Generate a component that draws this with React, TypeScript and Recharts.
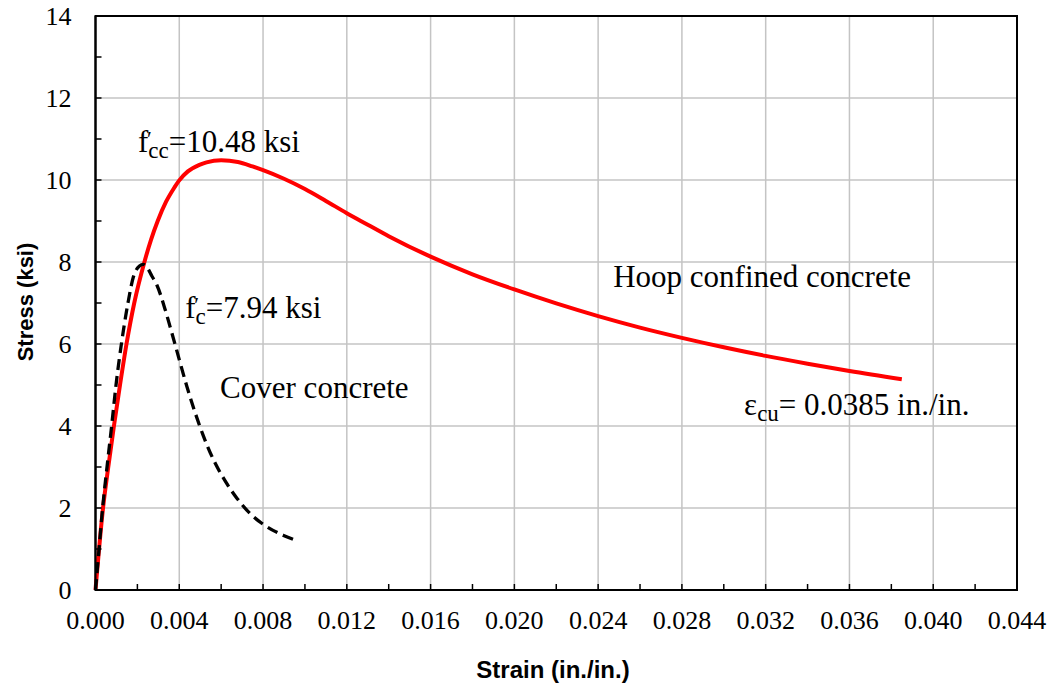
import React from 'react';
import {
  LineChart,
  Line,
  XAxis,
  YAxis,
  CartesianGrid,
  ReferenceArea,
  ReferenceDot,
} from 'recharts';

// Hoop confined concrete (Mander model) – strain (in./in.) vs stress (ksi)
const confinedStrain = [
  0, 0.00036, 0.00061, 0.00088, 0.00117, 0.00148, 0.00185, 0.00233, 0.00265,
  0.00297, 0.00337, 0.00377, 0.00398, 0.00441, 0.00496, 0.0053, 0.006, 0.0068,
  0.0075, 0.008, 0.009, 0.01, 0.011, 0.012, 0.013, 0.014, 0.016, 0.018, 0.02,
  0.022, 0.024, 0.026, 0.028, 0.03, 0.032, 0.034, 0.036, 0.0385,
];
const confinedStress = [
  0, 2.0, 3.0, 4.0, 5.0, 6.0, 7.0, 7.99, 8.54, 9.0, 9.47, 9.82, 9.98, 10.21,
  10.37, 10.43, 10.48, 10.44, 10.33, 10.24, 10.03, 9.78, 9.49, 9.19, 8.91, 8.63,
  8.13, 7.7, 7.33, 6.99, 6.68, 6.4, 6.15, 5.92, 5.71, 5.52, 5.34, 5.14,
];

// Cover (unconfined) concrete
const coverStrain = [
  0, 0.00017, 0.00034, 0.00055, 0.00077, 0.00098, 0.00125, 0.00155, 0.00181,
  0.0021, 0.00228, 0.0025, 0.00269, 0.00293, 0.00332, 0.00364, 0.004, 0.00436,
  0.00476, 0.00515, 0.00563, 0.00619, 0.00675, 0.00739, 0.0081, 0.00898,
  0.00962,
];
const coverStress = [
  0, 1.0, 2.0, 3.0, 4.0, 5.0, 6.05, 7.0, 7.64, 7.9, 7.94, 7.84, 7.66, 7.44,
  6.85, 6.28, 5.62, 4.97, 4.32, 3.76, 3.18, 2.66, 2.24, 1.86, 1.57, 1.33, 1.2,
];

// Axis ticks (major + minor)
const xTicks = [
  0, 0.002, 0.004, 0.006, 0.008, 0.01, 0.012, 0.014, 0.016, 0.018, 0.02, 0.022,
  0.024, 0.026, 0.028, 0.03, 0.032, 0.034, 0.036, 0.038, 0.04, 0.042, 0.044,
];
const xGrid = [0.004, 0.008, 0.012, 0.016, 0.02, 0.024, 0.028, 0.032, 0.036, 0.04];
const yTicks = [0, 1, 2, 3, 4, 5, 6, 7, 8, 9, 10, 11, 12, 13, 14];
const yGrid = [2, 4, 6, 8, 10, 12];

// Annotations (data coordinates of text start/baseline)
const annotations = [
  { x: 0.00203, y: 10.68, main: 'f', sub: 'cc', rest: '=10.48 ksi', prime: true },
  { x: 0.00428, y: 6.63, main: 'f', sub: 'c', rest: '=7.94 ksi', prime: true },
  { x: 0.00595, y: 4.68, main: 'Cover concrete', sub: '', rest: '', prime: false },
  { x: 0.02472, y: 7.4, main: 'Hoop confined concrete', sub: '', rest: '', prime: false },
  { x: 0.03097, y: 4.27, main: 'ε', sub: 'cu', rest: '= 0.0385 in./in.', prime: false },
];

const confinedData = confinedStrain.map((x, i) => ({ x, y: confinedStress[i] }));
const coverData = coverStrain.map((x, i) => ({ x, y: coverStress[i] }));

const SERIF = '"Liberation Serif", "Times New Roman", serif';
const SANS = '"Liberation Sans", Arial, sans-serif';

const renderAnnotation = (a: any) => (props: any) => {
  const vb = props.viewBox || {};
  const vx = vb.x;
  const vy = vb.y;
  return (
    <g>
      <text x={vx} y={vy} style={{ fontFamily: SERIF, fontSize: 31 }} fill="#000">
        {a.main}
        {a.sub ? (
          <tspan style={{ fontSize: 23 }} dy={6}>
            {a.sub}
          </tspan>
        ) : null}
        {a.rest ? (
          <tspan style={{ fontSize: 31 }} dy={a.sub ? -6 : 0}>
            {a.rest}
          </tspan>
        ) : null}
      </text>
      {a.prime ? (
        <text x={vx + 9} y={vy - 6} style={{ fontFamily: SERIF, fontSize: 22 }} fill="#000">
          ′
        </text>
      ) : null}
    </g>
  );
};

const XTick = (props: any) => {
  const { x, y, payload } = props;
  const v = payload.value as number;
  const label = Math.round(v * 1000) % 4 === 0 ? v.toFixed(3) : '';
  return (
    <text
      x={x}
      y={y}
      dy="0.71em"
      textAnchor="middle"
      style={{ fontFamily: SERIF, fontSize: 26 }}
      fill="#000"
    >
      {label}
    </text>
  );
};

const YTick = (props: any) => {
  const { x, y, payload } = props;
  const v = payload.value as number;
  const label = Math.round(v) % 2 === 0 ? String(v) : '';
  return (
    <text
      x={x}
      y={y}
      dy="0.355em"
      textAnchor="end"
      style={{ fontFamily: SERIF, fontSize: 26 }}
      fill="#000"
    >
      {label}
    </text>
  );
};

export default function App() {
  return (
    <div
      style={{
        position: 'absolute',
        left: 0,
        top: 0,
        background: '#fff',
        fontFamily: SERIF,
      }}
    >
      <LineChart
        width={1051}
        height={688}
        margin={{ top: 16, right: 34, left: 0, bottom: 0 }}
      >
        <CartesianGrid
          stroke="#c4c4c4"
          strokeWidth={1.5}
          horizontalValues={yGrid}
          verticalValues={xGrid}
        />
        <XAxis
          type="number"
          dataKey="x"
          domain={[0, 0.044]}
          ticks={xTicks}
          interval={0}
          height={98}
          tickSize={-6}
          tickMargin={27}
          axisLine={{ stroke: '#000', strokeWidth: 2 }}
          tickLine={{ stroke: '#000', strokeWidth: 1.5 }}
          tick={XTick}
          label={{
            content: () => (
              <text
                x={553}
                y={678}
                textAnchor="middle"
                style={{ fontFamily: SANS, fontWeight: 'bold', fontSize: 24 }}
                fill="#000"
              >
                Strain (in./in.)
              </text>
            ),
          }}
        />
        <YAxis
          type="number"
          domain={[0, 14]}
          ticks={yTicks}
          interval={0}
          width={95.5}
          tickSize={-6}
          tickMargin={30}
          axisLine={{ stroke: '#000', strokeWidth: 2 }}
          tickLine={{ stroke: '#000', strokeWidth: 1.5 }}
          tick={YTick}
          label={{
            content: () => (
              <text
                x={33}
                y={302}
                transform="rotate(-90 33 302)"
                textAnchor="middle"
                style={{ fontFamily: SANS, fontWeight: 'bold', fontSize: 22 }}
                fill="#000"
              >
                Stress (ksi)
              </text>
            ),
          }}
        />
        <ReferenceArea
          x1={0}
          x2={0.044}
          y1={0}
          y2={14}
          fill="none"
          fillOpacity={0}
          stroke="#000"
          strokeWidth={2}
        />
        <Line
          data={confinedData}
          dataKey="y"
          type="monotone"
          stroke="#ff0000"
          strokeWidth={4}
          dot={false}
          activeDot={false}
          isAnimationActive={false}
        />
        <Line
          data={coverData}
          dataKey="y"
          type="monotone"
          stroke="#000"
          strokeWidth={3.3}
          strokeDasharray="11 6"
          dot={false}
          activeDot={false}
          isAnimationActive={false}
        />
        {annotations.map((a, i) => (
          <ReferenceDot
            key={i}
            x={a.x}
            y={a.y}
            r={0}
            fill="none"
            stroke="none"
            label={renderAnnotation(a)}
          />
        ))}
      </LineChart>
    </div>
  );
}
